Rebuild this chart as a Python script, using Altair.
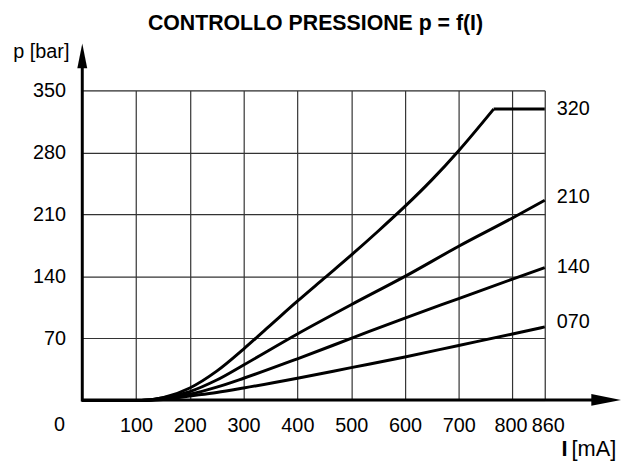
import altair as alt
import pandas as pd

# ---- data ----
I_320 = [0, 110, 150, 200, 250, 300, 350, 400, 450, 500, 550, 600, 650, 700, 765]
P_320 = [0, 0, 3, 14, 33, 58, 85, 112, 138, 164, 191, 219, 249, 282, 329]
I_320_flat = [765, 860]
P_320_flat = [329, 329]

I_common = [0, 110, 150, 200, 250, 300, 400, 500, 600, 700, 800, 860]
P_210 = [0, 0, 3, 10, 23, 40, 75, 108, 140, 174, 206, 226]
P_140 = [0, 0, 2, 7, 15, 25, 47, 70, 93, 115, 137, 150]
P_070 = [0, 0, 1, 5, 9, 14, 25, 37, 49, 62, 75, 83]

series_names = ["320", "210", "140", "070"]
label_I = [860, 860, 860, 860]
label_p = [329, 230, 150, 89]

x_ticks = [100, 200, 300, 400, 500, 600, 700, 800, 860]
y_ticks = [70, 140, 210, 280, 350]

title_text = "CONTROLLO PRESSIONE p = f(I)"
y_title = "p [bar]"

rows = []
for name, xs, ys in [("320", I_320, P_320), ("320b", I_320_flat, P_320_flat),
                     ("210", I_common, P_210), ("140", I_common, P_140),
                     ("070", I_common, P_070)]:
    for k, (a, b) in enumerate(zip(xs, ys)):
        rows.append({"I": a, "p": b, "serie": name, "k": k})
df = pd.DataFrame(rows)
lab = pd.DataFrame({"I": label_I, "p": label_p, "serie": series_names})

FONT = "Liberation Sans"
FS = 20
W, H = 467, 313

xscale = alt.Scale(domain=[0, 860], nice=False, zero=False)
yscale = alt.Scale(domain=[0, 350], nice=False, zero=False)

xaxis = alt.Axis(values=x_ticks, grid=True, gridColor="#333333", gridWidth=1.2,
                 domain=False, ticks=False, labelFontSize=FS, labelFont=FONT,
                 labelColor="black", labelPadding=15, labelFlush=False,
                 labelOverlap=False, labelBound=False, title=None,
                 labelOffset={"condition": [{"test": "datum.value == 860", "value": 3},
                                            {"test": "datum.value == 800", "value": -2}],
                              "value": 0})
yaxis = alt.Axis(values=y_ticks, grid=True, gridColor="#333333", gridWidth=1.2,
                 domain=False, ticks=False, labelFontSize=FS, labelFont=FONT,
                 labelColor="black", labelPadding=17, labelFlush=False,
                 labelOverlap=False, labelBound=False, title=None)

lines = alt.Chart(df).mark_line(color="black", strokeWidth=3, interpolate="monotone",
                                strokeJoin="round", clip=False).encode(
    x=alt.X("I:Q", scale=xscale, axis=xaxis),
    y=alt.Y("p:Q", scale=yscale, axis=yaxis),
    detail="serie:N",
    order="k:Q",
)

labels = alt.Chart(lab).mark_text(align="left", baseline="middle", dx=12,
                                  fontSize=FS, font=FONT, color="black").encode(
    x=alt.X("I:Q", scale=xscale),
    y=alt.Y("p:Q", scale=yscale),
    text="serie:N",
)

one = alt.Data(values=[{"a": 1}])

yaxis_line = alt.Chart(one).mark_rule(color="black", strokeWidth=3).encode(
    x=alt.value(0), y=alt.value(H + 1), y2=alt.value(-24))
xaxis_line = alt.Chart(one).mark_rule(color="black", strokeWidth=3).encode(
    x=alt.value(-1), x2=alt.value(516), y=alt.value(H - 0.5))

up_arrow = alt.Chart(one).mark_point(shape="M0,-1L0.4,1L-0.4,1Z", filled=True,
                                     opacity=1, color="black", size=625).encode(
    x=alt.value(0), y=alt.value(-34.8))
right_arrow = alt.Chart(one).mark_point(shape="M1,0L-1,0.4L-1,-0.4Z", filled=True,
                                        opacity=1, color="black", size=900).encode(
    x=alt.value(529), y=alt.value(H - 0.5))

def txt(s, x, y, align="left", baseline="alphabetic", size=FS, weight="normal"):
    return alt.Chart(one).mark_text(align=align, baseline=baseline, fontSize=size,
                                    font=FONT, fontWeight=weight, color="black").encode(
        x=alt.value(x), y=alt.value(y), text=alt.value(s))

title = txt(title_text, 235.5, -61, align="center", size=21.5, weight="bold")
ylab = txt(y_title, -13, -33, align="right")
zero = txt("0", -23, 338, align="center", baseline="middle")
xlab_I = txt("I", 484, 369, size=22, weight="bold")
xlab_unit = txt("[mA]", 494, 369, size=22)

chart = alt.layer(lines, labels, yaxis_line, xaxis_line, up_arrow, right_arrow,
                  title, ylab, zero, xlab_I, xlab_unit).properties(
    width=W, height=H,
    padding={"left": 75, "top": 81, "right": 78, "bottom": 62},
    autosize=alt.AutoSizeParams(type="none"),
).configure_view(stroke=None).configure(background="white")

chart.save("out.html", embed_options={"renderer": "svg", "actions": False})
